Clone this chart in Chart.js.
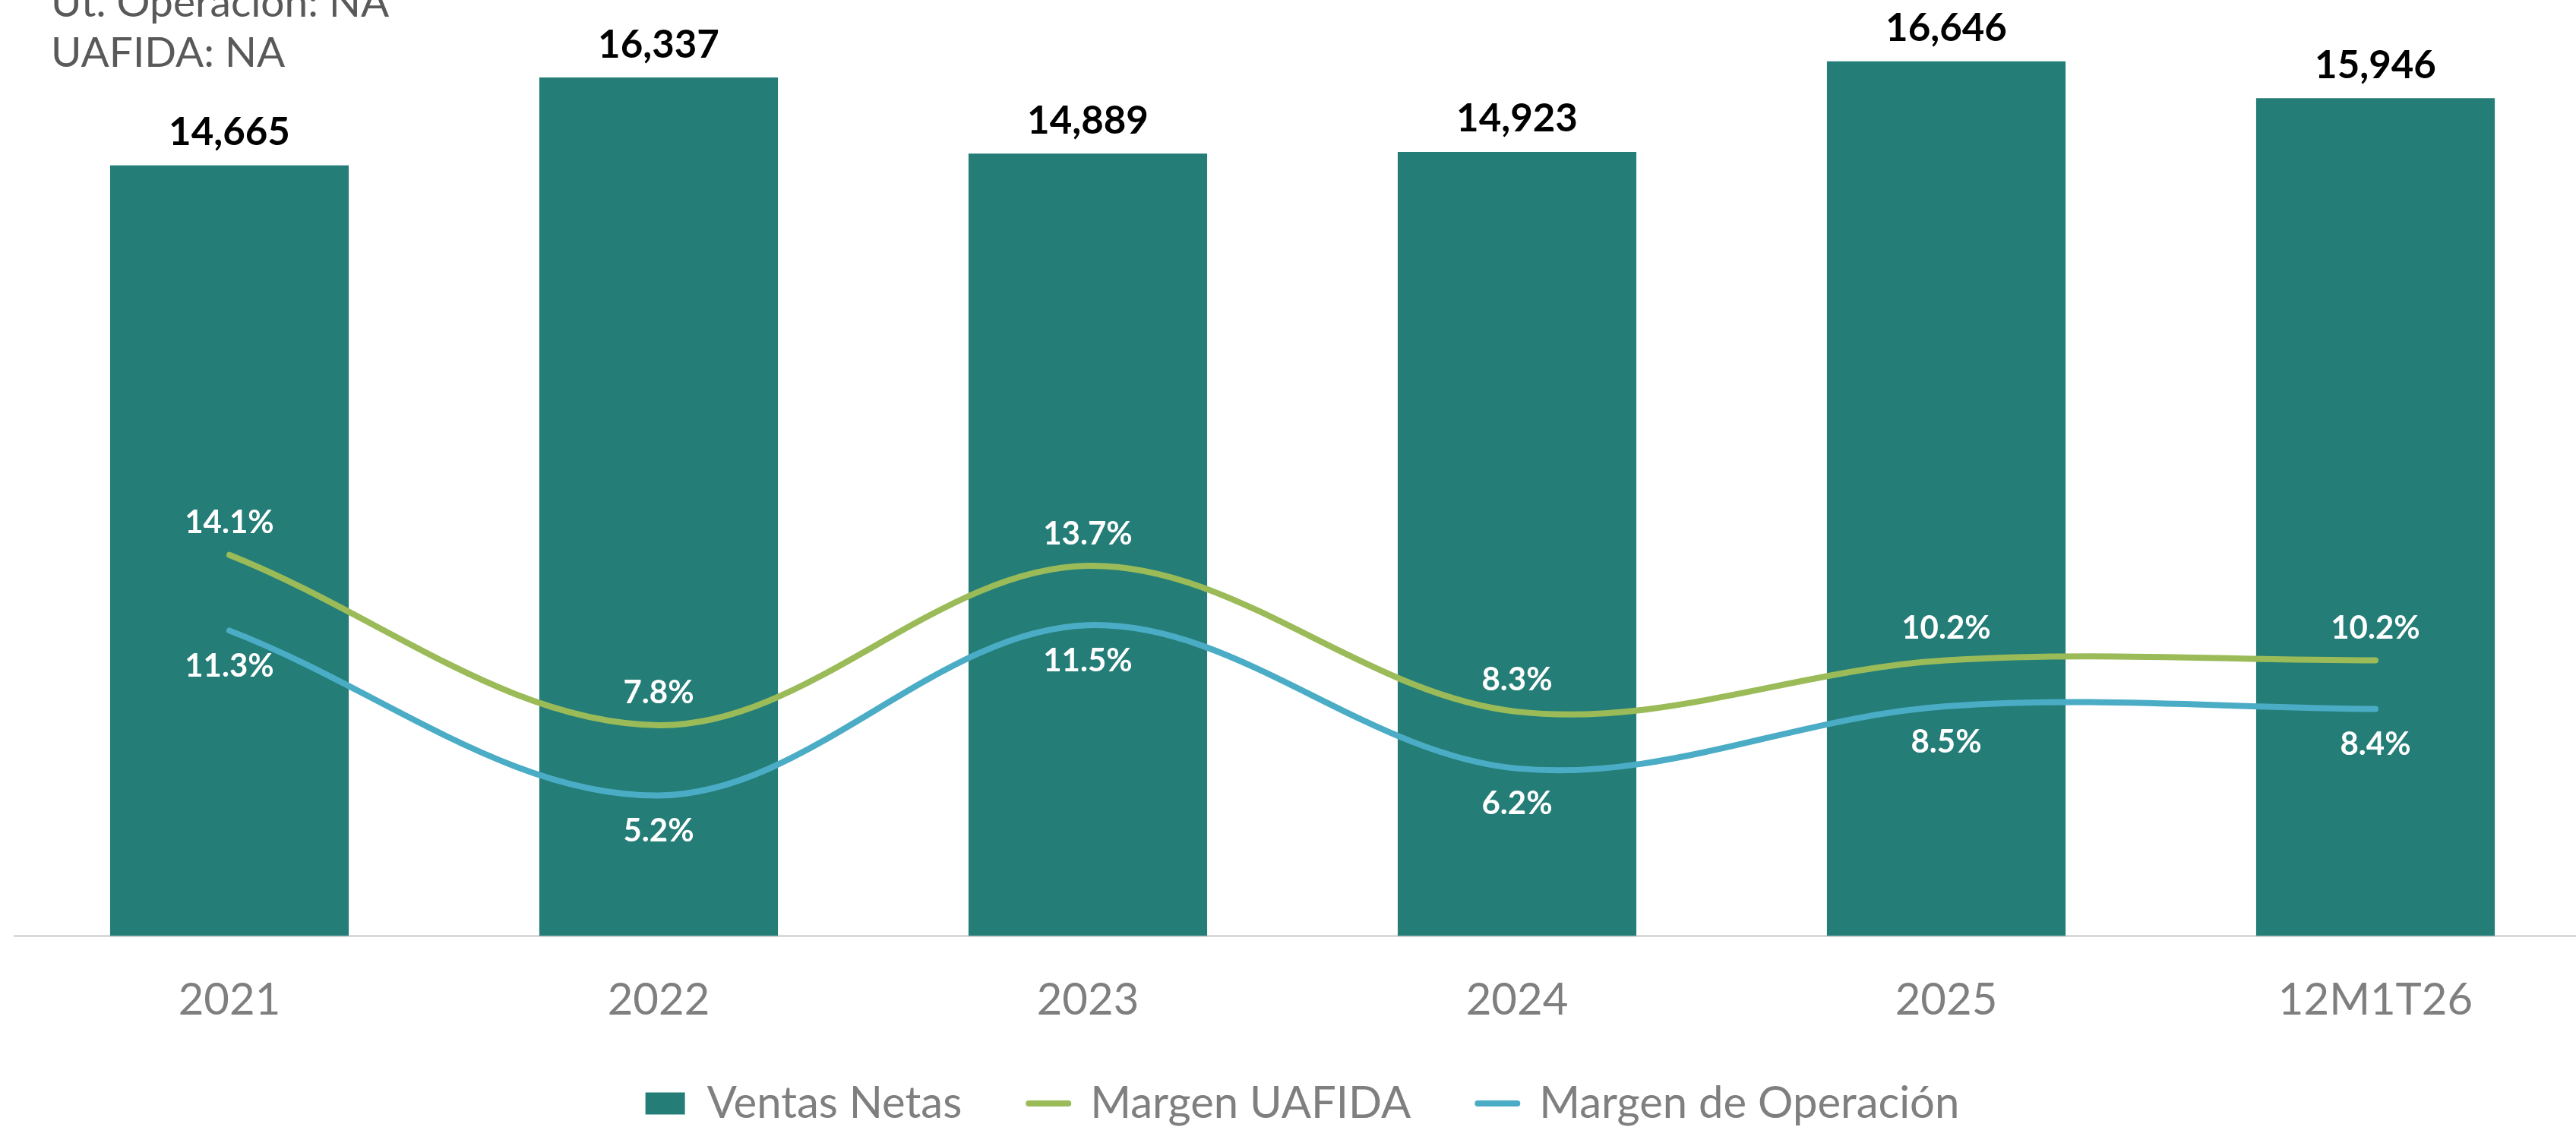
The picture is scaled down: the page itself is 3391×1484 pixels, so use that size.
<!DOCTYPE html>
<html><head><meta charset="utf-8">
<script src="https://cdn.jsdelivr.net/npm/chart.js@4.4.1/dist/chart.umd.min.js"></script>
<style>
html,body{margin:0;padding:0;width:3391px;height:1484px;overflow:hidden;background:#fff;}
#wrap{position:absolute;left:0;top:-60px;width:3420px;height:1560px;}
canvas{display:block;}
</style></head><body>
<div id="wrap"><canvas id="c" width="3420" height="1560"></canvas></div>
<script>
const categories = ['2021', '2022', '2023', '2024', '2025', '12M1T26'];
const ventasNetas = [14665, 16337, 14889, 14923, 16646, 15946];
const margenUAFIDA = [14.1, 7.8, 13.7, 8.3, 10.2, 10.2];
const margenOperacion = [11.3, 5.2, 11.5, 6.2, 8.5, 8.4];
const seriesNames = ['Ventas Netas', 'Margen UAFIDA', 'Margen de Operación'];
const notes = ['Ut. Operación: NA', 'UAFIDA: NA'];

const C_BAR = '#247d76', C_GREEN = '#9bbb59', C_BLUE = '#4bacc6';
const FONT = 'Lato, "Open Sans", sans-serif';

const fmtNum = v => v.toLocaleString('en-US');
const fmtPct = v => v.toFixed(1) + '%';

const valueLabels = {
  id: 'valueLabels',
  afterDatasetsDraw(chart) {
    const ctx = chart.ctx;
    ctx.save();
    ctx.textAlign = 'center';
    ctx.textBaseline = 'middle';
    chart.data.datasets.forEach((ds, i) => {
      const meta = chart.getDatasetMeta(i);
      meta.data.forEach((el, j) => {
        const v = ds.data[j];
        if (ds.type === 'bar') {
          ctx.font = 'bold 51px ' + FONT;
          ctx.fillStyle = '#000000';
          ctx.fillText(fmtNum(v), el.x, el.y - 43);
        } else {
          ctx.font = 'bold 42px ' + FONT;
          ctx.fillStyle = '#ffffff';
          const dy = ds.labelSide === 'above' ? -42 : 47;
          ctx.fillText(fmtPct(v), el.x, el.y + dy);
        }
      });
    });
    ctx.restore();
  }
};

const notesPlugin = {
  id: 'notes',
  afterDraw(chart) {
    const ctx = chart.ctx;
    ctx.save();
    ctx.font = '55px ' + FONT;
    ctx.fillStyle = '#595959';
    ctx.textAlign = 'left';
    ctx.textBaseline = 'alphabetic';
    notes.forEach((t, i) => ctx.fillText(t, 67, 82 + i * 66));
    ctx.restore();
  }
};

new Chart(document.getElementById('c'), {
  data: {
    labels: categories,
    datasets: [
      { type: 'bar', label: seriesNames[0], data: ventasNetas, backgroundColor: C_BAR,
        barPercentage: 0.556, categoryPercentage: 1, yAxisID: 'y', order: 2 },
      { type: 'line', label: seriesNames[1], data: margenUAFIDA, borderColor: C_GREEN, backgroundColor: C_GREEN,
        borderWidth: 8, tension: 0.35, pointRadius: 0, borderCapStyle: 'round', borderJoinStyle: 'round',
        yAxisID: 'y2', order: 0, fill: false, labelSide: 'above' },
      { type: 'line', label: seriesNames[2], data: margenOperacion, borderColor: C_BLUE, backgroundColor: C_BLUE,
        borderWidth: 8, tension: 0.35, pointRadius: 0, borderCapStyle: 'round', borderJoinStyle: 'round',
        yAxisID: 'y2', order: 1, fill: false, labelSide: 'below' }
    ]
  },
  options: {
    responsive: false,
    animation: false,
    devicePixelRatio: 1,
    layout: { padding: { left: 19.5, right: 10.5, top: 47, bottom: 8 } },
    scales: {
      x: {
        grid: { display: false, drawTicks: false },
        border: { display: true, color: '#d9d9d9', width: 3 },
        ticks: { color: '#7f7f7f', font: { family: FONT, size: 58 }, padding: 50, maxRotation: 0, autoSkip: false },
        afterFit(s) { s.height = 103.5; }
      },
      y: { display: false, min: 0, max: 18000 },
      y2: { display: false, min: 0, max: 35, position: 'right' }
    },
    plugins: {
      tooltip: { enabled: false },
      legend: {
        position: 'bottom',
        labels: {
          usePointStyle: true,
          pointStyleWidth: 52,
          boxHeight: 29,
          padding: 88,
          color: '#7f7f7f',
          font: { family: FONT, size: 58 },
          sort: (a, b) => a.datasetIndex - b.datasetIndex,
          generateLabels(chart) {
            const items = Chart.defaults.plugins.legend.labels.generateLabels(chart);
            items.forEach(it => {
              const ds = chart.data.datasets[it.datasetIndex];
              if (ds.type === 'bar') {
                it.pointStyle = 'rect';
                it.fillStyle = ds.backgroundColor;
                it.lineWidth = 0;
              } else {
                it.pointStyle = 'line';
                it.strokeStyle = ds.borderColor;
                it.lineWidth = 8;
                it.lineCap = 'round';
              }
            });
            return items;
          }
        }
      }
    }
  },
  plugins: [valueLabels, notesPlugin]
});
</script>
</body></html>
